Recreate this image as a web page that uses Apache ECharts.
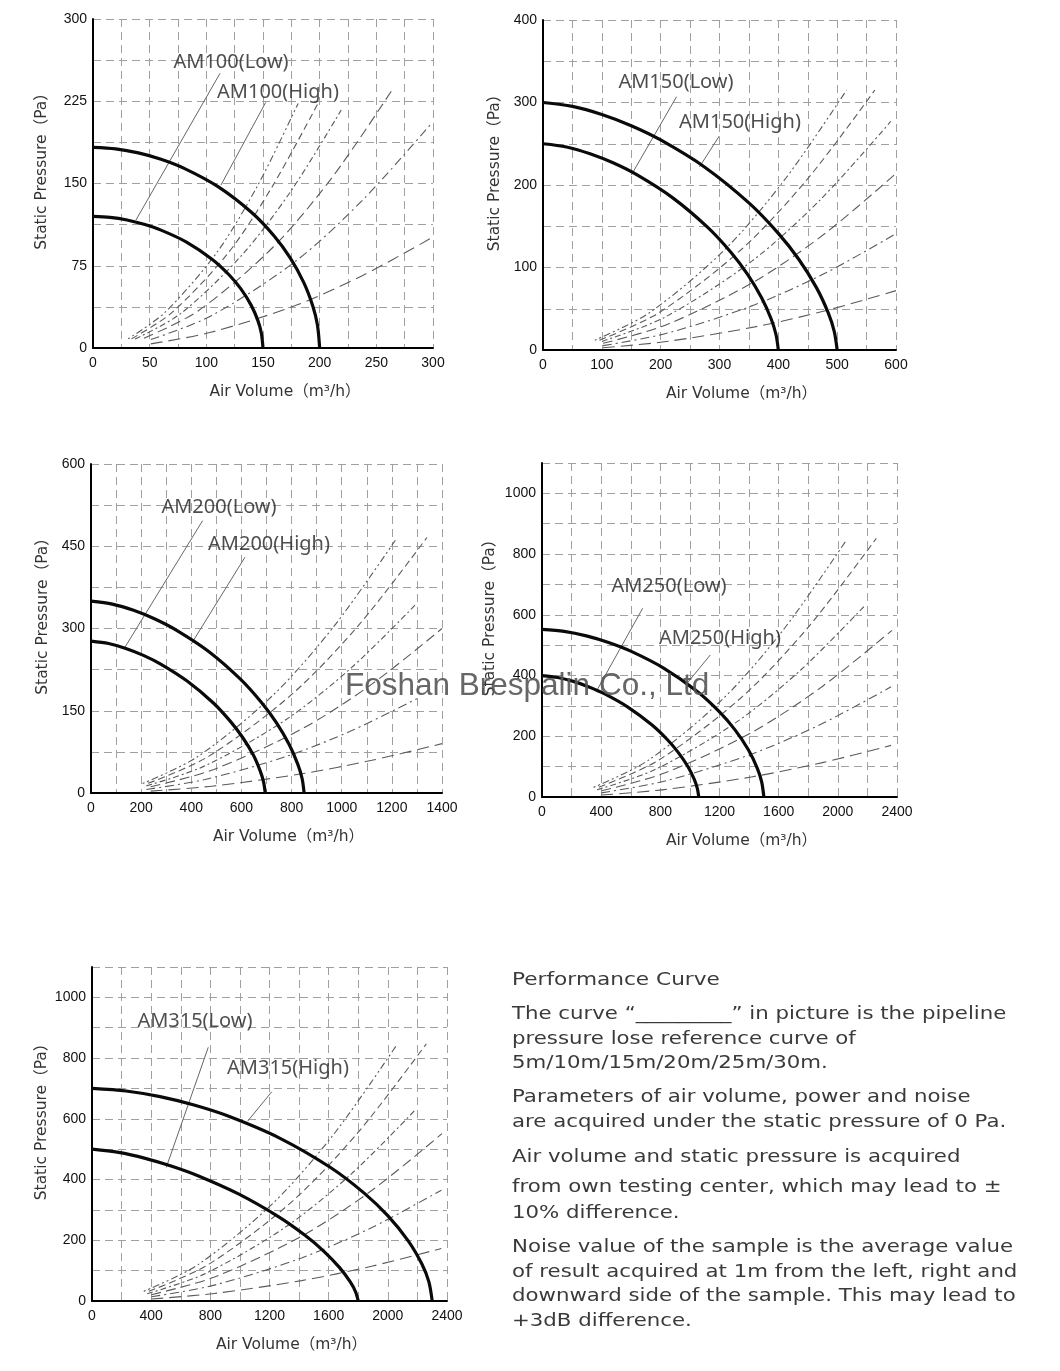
<!DOCTYPE html>
<html><head><meta charset="utf-8">
<script src="https://cdn.jsdelivr.net/npm/echarts/dist/echarts.min.js"></script>
<style>html,body{margin:0;padding:0;background:#fff}#c{width:1060px;height:1371px}</style>
</head><body><div id="c"></div>
<script>
// ---------------- DATA ----------------
// Fan curves [air volume m3/h, static pressure Pa]
const am100Low  = [[0,120],[15,119.1],[30,116.7],[45,112.8],[60,107.5],[82.5,96.6],[105,81],[120,66.8],[130.5,53.9],[139.5,39.1],[145.5,25],[148.5,13.8],[150,0]];
const am100High = [[0,183],[20,181.6],[40,177.9],[60,172.1],[80,164],[110,147.3],[140,123.5],[160,101.9],[174,82.1],[186,59.6],[194,38.1],[198,21.1],[200,0]];
const am150Low  = [[0,250],[40,246.1],[80,237.9],[120,226.6],[160,212.2],[220,184.7],[280,148.6],[320,117.9],[348,91.4],[372,62.8],[388,37.3],[396,18.8],[400,0]];
const am150High = [[0,300],[50,295.3],[100,285.5],[150,271.9],[200,254.6],[275,221.6],[350,178.3],[400,141.4],[435,109.7],[465,75.3],[485,44.7],[495,22.6],[500,0]];
const am200Low  = [[0,277],[70,272.6],[139,263.6],[209,251],[278,235.1],[382,204.6],[487,164.6],[556,130.6],[605,101.2],[647,69.6],[674,41.3],[688,20.9],[695,0]];
const am200High = [[0,350],[85,344.5],[170,333.1],[255,317.2],[340,297],[468,258.5],[595,208],[680,165],[740,127.9],[791,87.9],[825,52.2],[842,26.4],[850,0]];
const am250Low  = [[0,400],[106,393.7],[212,380.7],[318,362.5],[424,339.5],[583,295.4],[742,237.7],[848,188.6],[922,146.2],[986,100.4],[1028,59.6],[1049,30.1],[1060,0]];
const am250High = [[0,552],[150,545.5],[300,530.7],[450,508.9],[600,480.3],[825,423.8],[1050,347.3],[1200,280.1],[1305,221],[1395,155.5],[1455,95.3],[1485,50.1],[1500,0]];
const am315Low  = [[0,500],[180,489.4],[360,469.8],[540,443.6],[720,411.7],[990,352.6],[1260,277.9],[1440,216.3],[1566,164.4],[1674,110],[1746,63],[1782,30.4],[1800,0]];
const am315High = [[0,700],[230,691.7],[460,673],[690,645.3],[920,609.1],[1265,537.4],[1610,440.4],[1840,355.3],[2001,280.2],[2139,197.2],[2231,120.8],[2277,63.6],[2300,0]];

// Pipeline pressure-loss reference curves (30m, 25m, 20m, 15m, 10m, 5m)
const am100Pipes = [
  [[31,8.4],[63,32],[109,86.7],[145,147.6],[181,223]],
  [[34,8.4],[69,31.8],[119,86.3],[158,146.9],[198,222]],
  [[37,8.2],[77,31.1],[131,84.3],[175,143.6],[219,217]],
  [[45,8.9],[93,34],[159,92.1],[212,156.9],[265,237]],
  [[51,7.7],[104,29.2],[179,79.3],[238,135],[298,204]],
  [[51,3.8],[104,14.3],[179,38.9],[238,66.2],[298,100]]
];
const am150Pipes = [
  [[88,11.9],[181,45.2],[310,122.4],[413,208.5],[516,315]],
  [[96,11.9],[197,45.2],[338,122.4],[451,208.5],[564,315]],
  [[100,10.4],[207,39.7],[355,107.7],[473,183.3],[591,277]],
  [[102,8.1],[210,30.7],[360,83.2],[480,141.6],[600,214]],
  [[102,5.3],[210,20.2],[360,54.8],[480,93.3],[600,141]],
  [[102,2.7],[210,10.3],[360,28],[480,47.6],[600,72]]
];
const am200Pipes = [
  [[206,17.4],[425,66.1],[728,179.2],[971,305.1],[1214,461]],
  [[228,17.6],[469,66.8],[804,181.1],[1072,308.4],[1340,466]],
  [[221,13],[455,49.6],[780,134.5],[1040,229],[1300,346]],
  [[238,11.3],[490,43],[840,116.6],[1120,198.5],[1400,300]],
  [[221,6.5],[455,24.7],[780,66.9],[1040,113.8],[1300,172]],
  [[238,3.4],[490,12.9],[840,35],[1120,59.6],[1400,90]]
];
const am250Pipes = [
  [[349,31.7],[718,120.6],[1231,326.9],[1641,556.6],[2051,841]],
  [[384,32.1],[791,122.1],[1356,331.2],[1808,563.9],[2260,852]],
  [[372,23.8],[765,90.6],[1312,245.7],[1749,418.3],[2186,632]],
  [[402,20.7],[828,78.7],[1420,213.4],[1893,363.3],[2366,549]],
  [[401,13.7],[826,52],[1416,141.1],[1888,240.2],[2360,363]],
  [[401,6.4],[826,24.4],[1416,66.1],[1888,112.5],[2360,170]]
];
const am315Pipes = [
  [[350,31.7],[720,120.6],[1234,326.9],[1646,556.6],[2057,841]],
  [[384,31.9],[791,121.4],[1356,329.2],[1808,560.5],[2260,847]],
  [[373,23.9],[768,90.8],[1316,246],[1754,418.9],[2193,633]],
  [[402,20.8],[828,79],[1420,214.2],[1893,364.7],[2366,551]],
  [[402,13.8],[827,52.3],[1417,141.9],[1890,241.6],[2362,365]],
  [[402,6.5],[827,24.8],[1417,67.2],[1890,114.5],[2362,173]]
];

// Axis ranges: [max, grid step, label step]
const am100XAxis = [300, 25, 50],   am100YAxis = [300, 37.5, 75];
const am150XAxis = [600, 50, 100],  am150YAxis = [400, 50, 100];
const am200XAxis = [1400, 100, 200],am200YAxis = [600, 75, 150];
const am250XAxis = [2400, 200, 400],am250YAxis = [1100, 100, 200];
const am315XAxis = [2400, 200, 400],am315YAxis = [1100, 100, 200];

const models = ['AM100','AM150','AM200','AM250','AM315'];

const noteTitle = 'Performance Curve';
const noteLines = [
  'The curve \u201c_________\u201d in picture is the pipeline',
  'pressure lose reference curve of',
  '5m/10m/15m/20m/25m/30m.',
  'Parameters of air volume, power and noise',
  'are acquired under the static pressure of 0 Pa.',
  'Air volume and static pressure is acquired',
  'from own testing center, which may lead to \u00b1',
  '10% difference.',
  'Noise value of the sample is the average value',
  'of result acquired at 1m from the left, right and',
  'downward side of the sample. This may lead to',
  '+3dB difference.'
];
const watermark = 'Foshan Brespalin Co., Ltd';

// ---------------- LAYOUT / ANNOTATIONS ----------------
const layout = [
  {grid:{left:93, top:19, width:340, height:329}, yGap:43, tags:[[121.8,260.8],[163.2,233.4]],
   leaders:[[[112.1,250.5],[37.9,116.7]],[[152.4,224],[112.9,148.6]]]},
  {grid:{left:543, top:20, width:353, height:330}, yGap:40, tags:[[226,324.8],[334.8,276.4]],
   leaders:[[[227,307],[150,212]],[[299.7,259.4],[266,222]]]},
  {grid:{left:91, top:464, width:351, height:329}, yGap:40, tags:[[510.5,521.6],[710,454]],
   leaders:[[[445,496.6],[133,264]],[[614,430],[399,271]]]},
  {grid:{left:542, top:463, width:355, height:334}, yGap:44, tags:[[858.6,695],[1203,523.6]],
   leaders:[[[680.5,621.5],[372,352]],[[1138,468],[985,377]]]},
  {grid:{left:92, top:967, width:355, height:334}, yGap:42, tags:[[696,922],[1325,767]],
   leaders:[[[786,835.5],[502,440]],[[1215,689],[1052,592]]]}
];
const fans = [[am100Low,am100High],[am150Low,am150High],[am200Low,am200High],[am250Low,am250High],[am315Low,am315High]];
const pipes = [am100Pipes, am150Pipes, am200Pipes, am250Pipes, am315Pipes];
const xr = [am100XAxis, am150XAxis, am200XAxis, am250XAxis, am315XAxis];
const yr = [am100YAxis, am150YAxis, am200YAxis, am250YAxis, am315YAxis];

const pipeDash = [[2,3,2,3,7,3],[7,4],[6,3,2,3],[10,5],[9,4,2,4],[12,6]];
const tickFont = {fontFamily:'Liberation Sans, Arial, sans-serif', fontSize:14, color:'#111'};
const nameFont = {fontFamily:'DejaVu Sans, Noto Sans CJK SC, sans-serif', fontSize:15.5, color:'#333'};
const gridLine = {show:true, lineStyle:{color:'#a0a0a0', width:1, type:[8,5]}};

function stepFmt(step){
  return function(v){ const r = v/step; return Math.abs(r-Math.round(r))<1e-6 ? String(Math.round(v)) : ''; };
}

const option = {animation:false, backgroundColor:'#fff', grid:[], xAxis:[], yAxis:[], series:[], graphic:[]};

layout.forEach(function(L, i){
  option.grid.push(Object.assign({containLabel:false}, L.grid));
  option.xAxis.push({type:'value', gridIndex:i, min:0, max:xr[i][0], interval:xr[i][1],
    axisLine:{show:true, onZero:false, lineStyle:{color:'#000', width:2}},
    axisTick:{show:false}, splitLine:gridLine,
    axisLabel:Object.assign({margin:8, formatter:stepFmt(xr[i][2]), showMaxLabel:true, showMinLabel:true}, tickFont),
    name:'Air Volume\uff08m\u00b3/h\uff09', nameLocation:'middle', nameGap:36,
    nameTextStyle:Object.assign({padding:[0,0,0,44]}, nameFont)});
  option.yAxis.push({type:'value', gridIndex:i, min:0, max:yr[i][0], interval:yr[i][1],
    axisLine:{show:true, onZero:false, lineStyle:{color:'#000', width:2}},
    axisTick:{show:false}, splitLine:gridLine,
    axisLabel:Object.assign({margin:6, formatter:stepFmt(yr[i][2]), showMaxLabel:true}, tickFont),
    name:'Static Pressure\uff08Pa\uff09', nameLocation:'middle', nameGap:L.yGap,
    nameTextStyle:Object.assign({padding:[0,0,0,32]}, nameFont)});

  pipes[i].forEach(function(p, k){
    option.series.push({type:'line', xAxisIndex:i, yAxisIndex:i, data:p, showSymbol:false, smooth:0.3,
      silent:true, z:2, lineStyle:{color:'#5a5a5a', width:1.1, type:pipeDash[k]}});
  });
  fans[i].forEach(function(f){
    option.series.push({type:'line', xAxisIndex:i, yAxisIndex:i, data:f, showSymbol:false, smooth:0.3,
      silent:true, z:4, lineStyle:{color:'#0a0a0a', width:3.2}});
  });
  L.leaders.forEach(function(ld){
    option.series.push({type:'line', xAxisIndex:i, yAxisIndex:i, data:ld, showSymbol:false,
      silent:true, z:3, lineStyle:{color:'#666', width:1}});
  });
  const names = [models[i]+'(Low)', models[i]+'(High)'];
  L.tags.forEach(function(t, k){
    option.series.push({type:'scatter', xAxisIndex:i, yAxisIndex:i, data:[t], symbolSize:1,
      itemStyle:{color:'rgba(0,0,0,0)'}, silent:true, z:5,
      label:{show:true, position:'inside', formatter:names[k], fontFamily:'Noto Sans, sans-serif',
        fontSize:20, color:'#222'}});
  });
});

// Notes block
const noteFont = 'DejaVu Sans, sans-serif';
const noteY = [1014,1039,1063,1097,1122,1157,1187,1213,1247,1272,1296,1321];
option.graphic.push({type:'text', x:512, y:980, scaleX:1.17, style:{text:noteTitle, fontFamily:noteFont,
  fontSize:18.5, fill:'#3a3a3a', verticalAlign:'middle'}});
noteLines.forEach(function(t, k){
  option.graphic.push({type:'text', x:512, y:noteY[k], scaleX:1.15, style:{text:t, fontFamily:noteFont,
    fontSize:18.5, fill:'#3a3a3a', verticalAlign:'middle'}});
});
option.graphic.push({type:'text', x:345, y:686, z:100, style:{text:watermark,
  fontFamily:'Liberation Sans, Arial, sans-serif', fontSize:31.5, fill:'rgba(85,85,85,0.9)', verticalAlign:'middle'}});

const chart = echarts.init(document.getElementById('c'), null, {renderer:'canvas'});
chart.setOption(option);
</script></body></html>
